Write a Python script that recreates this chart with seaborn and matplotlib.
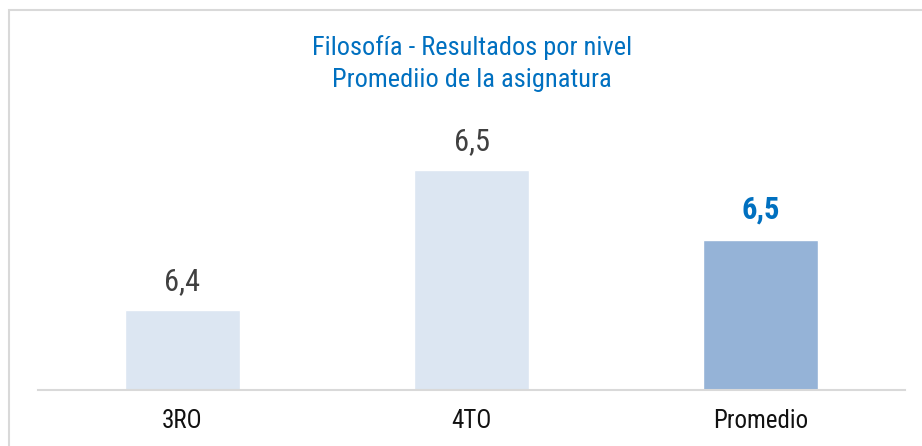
import seaborn as sns
import matplotlib.pyplot as plt
from matplotlib.patches import Rectangle
import pandas as pd

# DATA #
niveles = ['3RO', '4TO', 'Promedio']
promedios = [6.38, 6.52, 6.45]
etiquetas = ['6,4', '6,5', '6,5']
colores = {'3RO': '#DCE6F2', '4TO': '#DCE6F2', 'Promedio': '#95B3D7'}

df = pd.DataFrame({'Nivel': niveles, 'Promedio': promedios})

sns.set_style('white')
plt.rcParams['font.family'] = ['Roboto Condensed', 'Liberation Sans', 'DejaVu Sans']

# PLOT #
fig = plt.figure(figsize=(9.22, 4.46), dpi=100)
ax = fig.add_axes([38 / 922, 56 / 446, 867 / 922, 300 / 446])
sns.barplot(data=df, x='Nivel', y='Promedio', hue='Nivel', palette=colores,
            width=0.4, saturation=1, legend=False, ax=ax)
ax.set_ylim(6.3, 6.6)
ax.set_xlim(-0.5, 2.5)
ax.get_yaxis().set_visible(False)
ax.set_xlabel('')
sns.despine(ax=ax, top=True, right=True, left=True)
ax.spines['bottom'].set_color('#D9D9D9')
ax.spines['bottom'].set_linewidth(1.5)
ax.tick_params(axis='x', length=0, labelsize=18, labelcolor='#111111', pad=14)

for i, (v, t) in enumerate(zip(promedios, etiquetas)):
    if niveles[i] == 'Promedio':
        ax.annotate(t, (i, v), xytext=(0, 11), textcoords='offset points',
                    ha='center', va='bottom', fontsize=22, fontweight='bold', color='#0070C0')
    else:
        ax.annotate(t, (i, v), xytext=(0, 10), textcoords='offset points',
                    ha='center', va='bottom', fontsize=22, color='#404040')

fig.text(472 / 922, 1 - 48 / 446, 'Filosofía - Resultados por nivel', ha='center', va='center',
         fontsize=19, color='#0070C0')
fig.text(472 / 922, 1 - 80 / 446, 'Promediio de la asignatura', ha='center', va='center',
         fontsize=19, color='#0070C0')

# outer frame
fig.patches.append(Rectangle((9 / 922, -0.1), 1.2, 1.1 - 10 / 446, transform=fig.transFigure,
                             fill=False, edgecolor='#D9D9D9', linewidth=1.5))

fig.savefig('out.png', dpi=100)
